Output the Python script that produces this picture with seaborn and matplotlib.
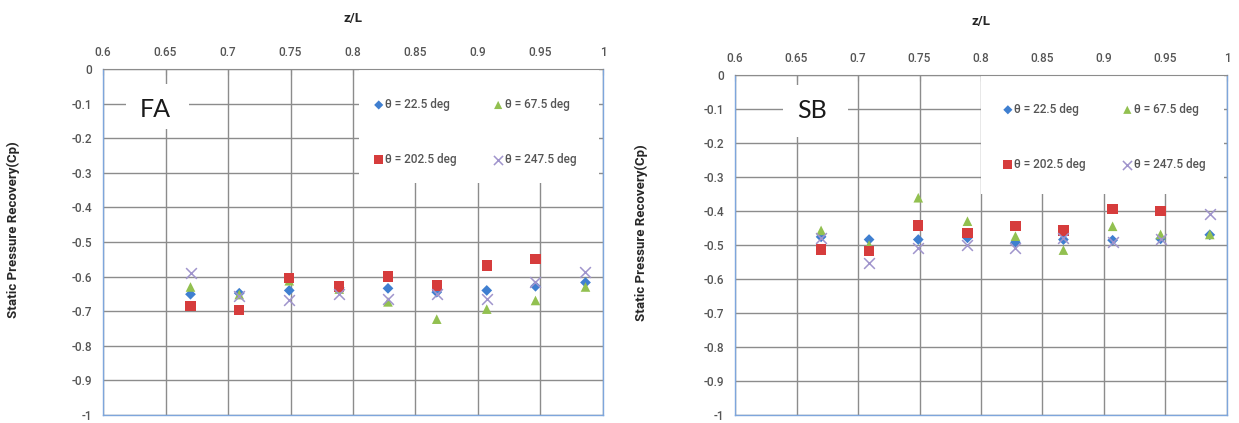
import numpy as np
import pandas as pd
import matplotlib
matplotlib.use("Agg")
import matplotlib.pyplot as plt
from matplotlib.patches import Rectangle
import seaborn as sns

# axial stations (z/L) where Cp was measured
z_L = [0.670, 0.709, 0.749, 0.789, 0.828, 0.867, 0.907, 0.946, 0.986]
series = ["θ = 22.5 deg", "θ = 67.5 deg", "θ = 202.5 deg", "θ = 247.5 deg"]

# FA configuration
fa_225 = [-0.651, -0.648, -0.640, -0.632, -0.634, -0.645, -0.640, -0.628, -0.617]
fa_675 = [-0.630, -0.652, -0.612, -0.636, -0.673, -0.723, -0.694, -0.669, -0.630]
fa_2025 = [-0.685, -0.697, -0.604, -0.629, -0.600, -0.626, -0.568, -0.549, np.nan]
fa_2475 = [-0.590, -0.656, -0.669, -0.651, -0.666, -0.649, -0.666, -0.617, -0.586]

# SB configuration
sb_225 = [-0.476, -0.484, -0.484, -0.479, -0.492, -0.484, -0.486, -0.482, -0.470]
sb_675 = [-0.457, -0.500, -0.361, -0.430, -0.474, -0.515, -0.445, -0.469, -0.469]
sb_2025 = [-0.513, -0.518, -0.443, -0.464, -0.445, -0.457, -0.394, -0.400, np.nan]
sb_2475 = [-0.479, -0.552, -0.508, -0.499, -0.508, -0.479, -0.492, -0.482, -0.408]

styles = {
    series[0]: dict(marker="D", color="#3f7fd0", s=30),
    series[1]: dict(marker="^", color="#92c050", s=48),
    series[2]: dict(marker="s", color="#d63c3c", s=55),
    series[3]: dict(marker="x", color="#a094cc", s=60),
}


def long_form(cols):
    frames = [pd.DataFrame({"z/L": z_L, "Cp": v, "series": name})
              for name, v in zip(series, cols)]
    return pd.concat(frames, ignore_index=True)


fa = long_form([fa_225, fa_675, fa_2025, fa_2475])
sb = long_form([sb_225, sb_675, sb_2025, sb_2475])

sns.set_style("white")
plt.rcParams["font.family"] = ["Roboto", "DejaVu Sans"]
plt.rcParams["axes.unicode_minus"] = False

fig = plt.figure(figsize=(12.39, 4.23), dpi=100)
W, H = 1239, 423
TICK_C = "#555555"


def fmt(v):
    v = round(v, 2) + 0.0
    return "%g" % v


def panel(rect, df, tag, tag_box, tag_xy, leg_box, leg_anchor, xl_y, yl_xy):
    ax = fig.add_axes(rect)
    for name in series:
        st = styles[name]
        sub = df[df["series"] == name]
        if st["marker"] == "x":
            sns.scatterplot(data=sub, x="z/L", y="Cp", ax=ax, marker="x",
                            color=st["color"], s=st["s"], linewidth=1.1,
                            label=name, zorder=4)
        else:
            sns.scatterplot(data=sub, x="z/L", y="Cp", ax=ax, marker=st["marker"],
                            color=st["color"], s=st["s"], edgecolor="none",
                            linewidth=0, label=name, zorder=4)

    ax.set_xlim(0.6, 1.0)
    ax.set_ylim(-1.0, 0.0)
    xt = np.arange(0.6, 1.0001, 0.05)
    yt = np.arange(0.0, -1.0001, -0.1)
    ax.set_xticks(xt)
    ax.set_xticklabels([fmt(v) for v in xt], fontweight="medium")
    ax.set_yticks(yt)
    ax.set_yticklabels([fmt(v) for v in yt], fontweight="medium")
    ax.xaxis.tick_top()
    ax.xaxis.set_label_position("top")
    ax.tick_params(axis="x", direction="in", length=4, color="#8c8c8c",
                   pad=7, labelsize=8.5, labelcolor=TICK_C)
    ax.tick_params(axis="y", length=0, pad=8, labelsize=8.5, labelcolor=TICK_C)
    ax.grid(True, color="#8c8c8c", linewidth=1.0)
    ax.set_axisbelow(True)
    for side in ["left", "right", "bottom"]:
        ax.spines[side].set_color("#7ea6dc")
        ax.spines[side].set_linewidth(1.0)
    ax.spines["top"].set_color("#8c8c8c")

    ax.set_xlabel("z/L", fontsize=9.5, fontweight="bold", color="#262626")
    ax.xaxis.set_label_coords(0.5, xl_y)
    ax.xaxis.label.set_va("center")
    ax.set_ylabel("Static Pressure Recovery(Cp)", fontsize=9.5, fontweight="bold",
                  color="#262626")
    ax.yaxis.set_label_coords(*yl_xy)

    # white boxes that hide the grid behind the tag and the legend
    x0, x1, y0, y1 = tag_box
    ax.add_patch(Rectangle((x0, y0), x1 - x0, y1 - y0, facecolor="white",
                           edgecolor="none", zorder=2.5))
    ax.text(tag_xy[0], tag_xy[1], tag, fontsize=18, ha="center", va="center",
            color="#1a1a1a", zorder=3, family=["Lato", "DejaVu Sans"])
    x0, x1, y0, y1 = leg_box
    ax.add_patch(Rectangle((x0, y0), x1 - x0, y1 - y0, facecolor="white",
                           edgecolor="none", zorder=2.5))

    handles, labels = ax.get_legend_handles_labels()
    order = [0, 2, 1, 3]
    leg = ax.legend([handles[i] for i in order], [labels[i] for i in order],
                    ncol=2, loc="upper left", bbox_to_anchor=leg_anchor,
                    frameon=False, borderpad=0, borderaxespad=0, fontsize=8.5,
                    handlelength=0.8, handletextpad=0.15, columnspacing=3.1,
                    labelspacing=3.55, markerscale=0.85, labelcolor=TICK_C)
    for t in leg.get_texts():
        t.set_fontweight("medium")
    return ax


panel([103 / W, 8 / H, 500 / W, 346 / H], fa, "FA",
      (0.6185, 0.669, -0.173, -0.043), (0.6416, -0.118),
      (0.805, 0.9968, -0.33, -0.004), (0.542, 0.916), 1.147, (-0.166, 0.535))
panel([735 / W, 8 / H, 492 / W, 340 / H], sb, "SB",
      (0.639, 0.692, -0.182, -0.03), (0.6626, -0.103),
      (0.800, 0.9976, -0.35, -0.004), (0.545, 0.918), 1.156, (-0.177, 0.535))

fig.savefig("out.png", dpi=100, facecolor="white")
